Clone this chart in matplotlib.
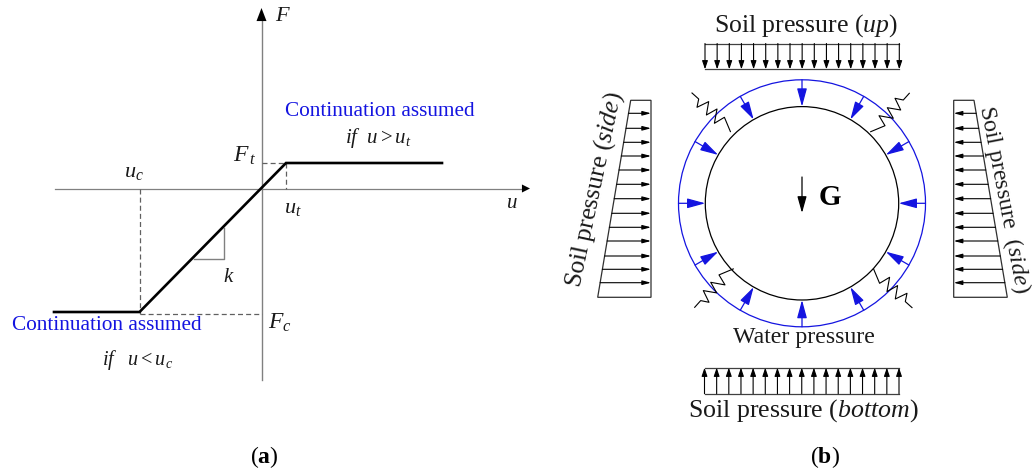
"""Soil spring law (a) and tunnel ring load scheme (b). Output: out.png"""
import numpy as np
import matplotlib
matplotlib.use("Agg")
import matplotlib.pyplot as plt
from matplotlib.patches import Circle, FancyArrowPatch, Polygon

plt.rcParams["font.family"] = ["Liberation Serif", "DejaVu Serif"]
plt.rcParams["mathtext.fontset"] = "custom"
plt.rcParams["mathtext.rm"] = "Liberation Serif"
plt.rcParams["mathtext.it"] = "Liberation Serif:italic"
plt.rcParams["mathtext.bf"] = "Liberation Serif:bold"

C_AXIS = "#808080"
C_BLUE = "#1414e0"
C_TEXT = "#1a1a1a"

# all positions are pixels of the 1035x474 picture
ORIGIN = (261.5, 188.5)
CURVE_X = [54, 139.5, 286, 442]
CURVE_Y = [312, 312, 163, 163]
U_C, U_T = 139.5, 286
F_C, F_T = 313.5, 163
SLOPE_X = [194, 223.5, 223.5]
SLOPE_Y = [258.5, 258.5, 228]

RING_C = (802, 203.3)
R_OUT, R_IN = 123.5, 96.7
WATER_ANGLES = [0, 30, 60, 90, 120, 150, 180, 210, 240, 270, 300, 330]
SPRING_DX = [68.7, 83, 77, 91.3, 85.3, 98.7, 93, 101.3, 107.3]
SPRING_DY = [71.6, 77.6, 87.6, 85, 95.6, 93.3, 105, 103.3, 110]
SPRING_TURNS = [0, 90, 180, 270]
SPRING_LIFT = [0, 3, 6, 3]

TOP_X = np.linspace(705, 899.3, 17)
TOP_Y = (43.5, 69.3)
BOT_X = np.linspace(704.5, 899, 17)
BOT_Y = (367.7, 393.7)

SIDE_Y = [113.3, 128.3, 142.3, 156, 170, 184.3, 198.7, 213.3, 227.3, 241, 256, 269.3, 282.7]
SIDE_TOP, SIDE_BOT = 100.3, 297.3
LEFT_EDGE = (651, 630.7, 597.7)
RIGHT_EDGE = (953.7, 974, 1007.3)


def arrow(ax, p0, p1, color="k", lw=0.9, hl=5.0, hw=1.4, z=3):
    # hl, hw are in points, hw is half the head width
    a = FancyArrowPatch(p0, p1, arrowstyle=f"-|>,head_length={hl},head_width={hw}",
                        mutation_scale=1, shrinkA=0, shrinkB=0, linewidth=lw,
                        color=color, zorder=z)
    ax.add_patch(a)


def label(ax, x, y, s, size=14, color=C_TEXT, rot=0, **kw):
    ax.text(x, y, s, fontsize=size, color=color, rotation=rot, ha="center",
            va="center", rotation_mode="anchor", **kw)


fig = plt.figure(figsize=(10.35, 4.74), dpi=100)
ax = fig.add_axes([0, 0, 1, 1])
ax.set_xlim(0, 1035)
ax.set_ylim(474, 0)
ax.axis("off")

# ---- panel a ----
ax.plot([ORIGIN[0]] * 2, [380, 20], color=C_AXIS, lw=1.0)
ax.plot([55, 522], [ORIGIN[1]] * 2, color=C_AXIS, lw=0.9)
arrow(ax, (ORIGIN[0], 21), (ORIGIN[0], 8), lw=0, hl=9.4, hw=3.6)
arrow(ax, (522, ORIGIN[1]), (530, ORIGIN[1]), lw=0, hl=5.8, hw=2.9)

dash = dict(color="#606060", lw=0.9, ls=(0, (4, 2.5)))
ax.plot([U_C, U_C], [ORIGIN[1], F_C], **dash)
ax.plot([U_C, ORIGIN[0]], [F_C, F_C], **dash)
ax.plot([ORIGIN[0], U_T], [F_T, F_T], **dash)
ax.plot([U_T, U_T], [F_T, ORIGIN[1]], **dash)
ax.plot(SLOPE_X, SLOPE_Y, color=C_AXIS, lw=1.0)
ax.plot(CURVE_X, CURVE_Y, color="k", lw=1.9, solid_joinstyle="miter", zorder=4)

label(ax, 283, 16, r"$\mathit{F}$", 16)
label(ax, 134, 173, r"$\mathit{u_c}$", 16)
label(ax, 245, 156, r"$\mathit{F_{\,t}}$", 17)
label(ax, 293, 208, r"$\mathit{u_t}$", 16)
label(ax, 512, 203, r"$\mathit{u}$", 15)
label(ax, 229, 278, r"$\mathit{k}$", 15)
label(ax, 280, 323, r"$\mathit{F_c}$", 17)
label(ax, 379.5, 111, "Continuation assumed", 15.3, C_BLUE)
label(ax, 107, 325, "Continuation assumed", 15.3, C_BLUE)
label(ax, 378, 138, r"$\mathit{if\ \ u>u_t}$", 15)
label(ax, 138, 360, r"$\mathit{if\ \ \ u<u_c}$", 14.5)
label(ax, 264, 457, r"($\mathbf{a}$)", 17, "k")

# ---- panel b: ring ----
ax.add_patch(Circle(RING_C, R_OUT, fc="none", ec=C_BLUE, lw=0.9))
ax.add_patch(Circle(RING_C, R_IN, fc="none", ec="k", lw=0.9))
for ang in WATER_ANGLES:
    c, s = np.cos(np.radians(ang)), np.sin(np.radians(ang))
    arrow(ax, (RING_C[0] + R_OUT * c, RING_C[1] - R_OUT * s),
          (RING_C[0] + R_IN * c, RING_C[1] - R_IN * s),
          color=C_BLUE, lw=0.9, hl=11, hw=3.0)

for turn, lift in zip(SPRING_TURNS, SPRING_LIFT):
    c, s = np.cos(np.radians(turn)), np.sin(np.radians(turn))
    dx, dy = np.array(SPRING_DX), np.array(SPRING_DY)
    ax.plot(RING_C[0] + dx * c - dy * s, RING_C[1] - (dx * s + dy * c) - lift,
            color="k", lw=0.8, zorder=2)

arrow(ax, (802, 177), (802, 213), lw=0.9, hl=10, hw=2.8)
label(ax, 830, 198, r"$\mathbf{G}$", 21, "k")
label(ax, 803.5, 338, "Water pressure", 17.2)

# ---- panel b: uniform soil pressure ----
for xs, (y0, y1), up in [(TOP_X, TOP_Y, False), (BOT_X, BOT_Y, True)]:
    ax.plot([xs[0], xs[-1]], [y0, y0], color="#404040", lw=0.9)
    ax.plot([xs[0], xs[-1]], [y1, y1], color="#404040", lw=0.9)
    for x in xs:
        p0, p1 = ((x, y1), (x, y0)) if up else ((x, y0), (x, y1))
        arrow(ax, p0, p1, lw=0.8, hl=5, hw=1.7)

label(ax, 806, 26, r"Soil pressure ($\mathit{up}$)", 18.5)
label(ax, 803.5, 411, r"Soil pressure ($\mathit{bottom}$)", 18.6)
label(ax, 825, 457, r"($\mathbf{b}$)", 17, "k")

# ---- panel b: trapezoid soil pressure ----
for (x0, xt, xb) in [LEFT_EDGE, RIGHT_EDGE]:
    ax.add_patch(Polygon([(x0, SIDE_TOP), (xt, SIDE_TOP), (xb, SIDE_BOT), (x0, SIDE_BOT)],
                         closed=True, fc="none", ec="#303030", lw=0.9))
    for y in SIDE_Y:
        xe = xt + (xb - xt) * (y - SIDE_TOP) / (SIDE_BOT - SIDE_TOP)
        arrow(ax, (xe, y), (x0, y), lw=0.8, hl=5, hw=1.3)

label(ax, 594.5, 190, r"Soil pressure $\mathit{(side)}$", 18.5, rot=78)
label(ax, 1003.5, 199, r"Soil pressure $\ \mathit{(side)}$", 17.2, rot=-79)

fig.savefig("out.png", dpi=100)
